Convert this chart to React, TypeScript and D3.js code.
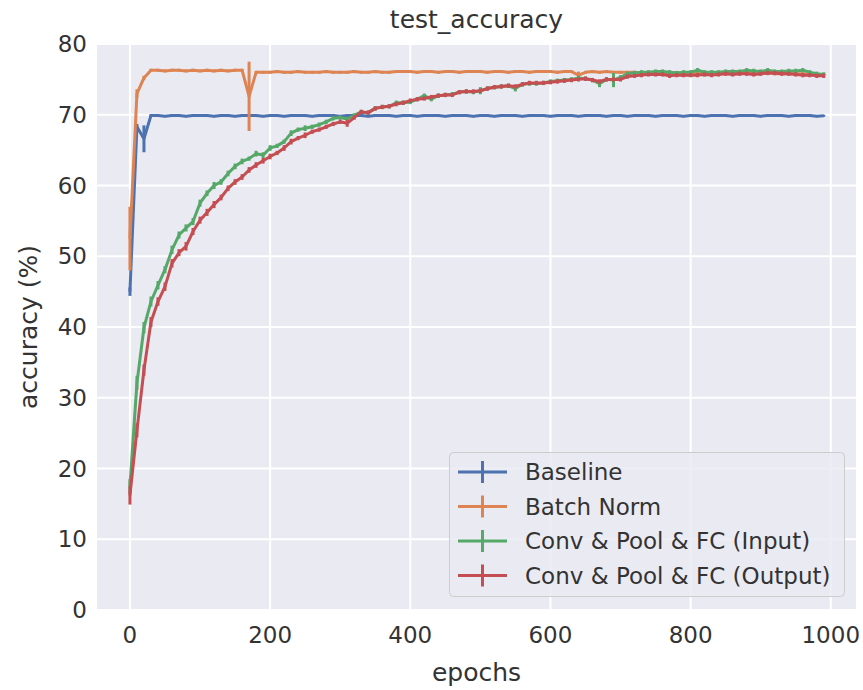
import React from "react";
import * as d3 from "d3";

const epochs = d3.range(0, 1000, 10);

const baseline = [
  45.0, 68.3, 66.6, 69.9, 69.9, 69.8, 69.9, 69.9, 69.8, 69.9,
  69.9, 69.9, 69.8, 69.9, 69.9, 69.8, 69.9, 69.9, 69.9, 69.8,
  69.9, 69.9, 69.8, 69.9, 69.9, 69.9, 69.8, 69.9, 69.9, 69.9,
  69.8, 69.9, 69.9, 69.9, 69.8, 69.9, 69.9, 69.9, 69.8, 69.9,
  69.9, 69.8, 69.9, 69.9, 69.9, 69.8, 69.9, 69.9, 69.9, 69.8,
  69.9, 69.9, 69.8, 69.9, 69.9, 69.9, 69.8, 69.9, 69.9, 69.9,
  69.8, 69.9, 69.9, 69.9, 69.8, 69.9, 69.9, 69.9, 69.8, 69.9,
  69.9, 69.8, 69.9, 69.9, 69.9, 69.8, 69.9, 69.9, 69.9, 69.8,
  69.9, 69.9, 69.8, 69.9, 69.9, 69.9, 69.8, 69.9, 69.9, 69.9,
  69.8, 69.9, 69.9, 69.9, 69.8, 69.9, 69.9, 69.9, 69.8, 69.85,
];
const baselineErr = [
  0.6, 0.4, 1.9, 0.2, 0.15, 0.15, 0.15, 0.15, 0.15, 0.15,
  0.15, 0.15, 0.15, 0.15, 0.15, 0.15, 0.15, 0.15, 0.15, 0.15,
  0.15, 0.15, 0.15, 0.15, 0.15, 0.15, 0.15, 0.15, 0.15, 0.15,
  0.15, 0.15, 0.15, 0.15, 0.15, 0.15, 0.15, 0.15, 0.15, 0.15,
  0.15, 0.15, 0.15, 0.15, 0.15, 0.15, 0.15, 0.15, 0.15, 0.15,
  0.15, 0.15, 0.15, 0.15, 0.15, 0.15, 0.15, 0.15, 0.15, 0.15,
  0.15, 0.15, 0.15, 0.15, 0.15, 0.15, 0.15, 0.15, 0.15, 0.15,
  0.15, 0.15, 0.15, 0.15, 0.15, 0.15, 0.15, 0.15, 0.15, 0.15,
  0.15, 0.15, 0.15, 0.15, 0.15, 0.15, 0.15, 0.15, 0.15, 0.15,
  0.15, 0.15, 0.15, 0.15, 0.15, 0.15, 0.15, 0.15, 0.15, 0.15,
];

const batchNorm = [
  52.5, 73.0, 75.2, 76.3, 76.3, 76.2, 76.3, 76.3, 76.2, 76.3,
  76.2, 76.3, 76.2, 76.3, 76.2, 76.3, 76.3, 72.6, 76.0, 76.0,
  76.0, 76.1, 76.0, 76.0, 76.1, 76.0, 76.0, 76.0, 76.1, 76.0,
  76.0, 76.0, 76.1, 76.0, 76.0, 76.1, 76.0, 76.0, 76.1, 76.1,
  76.1, 76.0, 76.1, 76.1, 76.0, 76.1, 76.1, 76.0, 76.1, 76.1,
  76.1, 76.0, 76.1, 76.1, 76.0, 76.1, 76.1, 76.0, 76.1, 76.1,
  76.1, 76.0, 76.1, 76.1, 75.6, 76.0, 76.1, 76.0, 76.1, 76.0,
  76.0, 76.0, 76.0, 75.9, 76.0, 75.9, 75.9, 76.0, 75.9, 75.9,
  75.9, 75.9, 75.9, 75.9, 75.8, 75.9, 75.9, 75.8, 75.9, 75.8,
  75.8, 75.9, 75.8, 75.8, 75.8, 75.8, 75.8, 75.7, 75.7, 75.7,
];
const batchNormErr = [
  4.5, 0.6, 0.3, 0.2, 0.2, 0.2, 0.2, 0.2, 0.2, 0.2,
  0.2, 0.2, 0.2, 0.2, 0.2, 0.2, 0.2, 4.9, 0.2, 0.2,
  0.2, 0.2, 0.2, 0.2, 0.2, 0.2, 0.2, 0.2, 0.2, 0.2,
  0.2, 0.2, 0.2, 0.2, 0.2, 0.2, 0.2, 0.2, 0.2, 0.2,
  0.2, 0.2, 0.2, 0.2, 0.2, 0.2, 0.2, 0.2, 0.2, 0.2,
  0.2, 0.2, 0.2, 0.2, 0.2, 0.2, 0.2, 0.2, 0.2, 0.2,
  0.2, 0.2, 0.2, 0.2, 0.5, 0.2, 0.2, 0.2, 0.2, 0.2,
  0.2, 0.2, 0.2, 0.2, 0.2, 0.2, 0.2, 0.2, 0.2, 0.2,
  0.2, 0.2, 0.2, 0.2, 0.2, 0.2, 0.2, 0.2, 0.2, 0.2,
  0.2, 0.2, 0.2, 0.2, 0.2, 0.2, 0.2, 0.2, 0.2, 0.2,
];

const convInput = [
  17.5, 32.1, 39.9, 43.6, 45.9, 48.1, 50.9, 53.0, 54.0, 54.9,
  57.5, 58.9, 60.0, 60.5, 61.7, 62.7, 63.4, 63.8, 64.5, 64.3,
  65.3, 65.6, 66.2, 67.4, 67.9, 68.1, 68.3, 68.6, 69.0, 69.5,
  69.6, 69.4, 69.9, 70.4, 70.3, 70.9, 71.1, 71.2, 71.7, 71.7,
  71.8, 72.2, 72.7, 72.2, 72.7, 72.8, 72.9, 73.2, 73.3, 73.2,
  73.4, 73.7, 73.9, 74.0, 74.1, 73.7, 74.3, 74.4, 74.4, 74.5,
  74.7, 74.8, 74.9, 75.0, 75.2, 75.1, 74.9, 74.4, 75.0, 74.9,
  75.3, 75.8, 75.9, 76.0, 76.0, 76.1, 76.1, 76.0, 75.9, 76.0,
  76.0, 76.3, 76.0, 76.0, 76.0, 76.1, 76.1, 76.1, 76.3, 76.2,
  76.1, 76.3, 76.1, 76.1, 76.2, 76.2, 76.3, 76.0, 75.8, 75.7,
];
const convInputErr = [
  1.0, 1.0, 0.8, 0.7, 0.6, 0.5, 0.6, 0.5, 0.5, 0.5,
  0.5, 0.4, 0.5, 0.4, 0.4, 0.4, 0.4, 0.3, 0.4, 0.4,
  0.4, 0.3, 0.3, 0.4, 0.3, 0.4, 0.3, 0.3, 0.3, 0.3,
  0.3, 0.3, 0.3, 0.3, 0.3, 0.3, 0.3, 0.3, 0.3, 0.3,
  0.3, 0.3, 0.3, 0.3, 0.3, 0.3, 0.3, 0.3, 0.3, 0.3,
  0.5, 0.3, 0.3, 0.3, 0.3, 0.4, 0.3, 0.3, 0.3, 0.3,
  0.3, 0.3, 0.3, 0.3, 0.3, 0.3, 0.3, 0.5, 0.3, 1.0,
  0.3, 0.3, 0.3, 0.3, 0.3, 0.3, 0.3, 0.3, 0.3, 0.3,
  0.3, 0.3, 0.3, 0.3, 0.3, 0.3, 0.3, 0.3, 0.3, 0.3,
  0.3, 0.3, 0.3, 0.3, 0.3, 0.3, 0.3, 0.3, 0.3, 0.3,
];

const convOutput = [
  16.2, 25.4, 33.9, 40.7, 43.6, 45.7, 49.0, 50.5, 51.4, 53.5,
  55.1, 56.2, 57.3, 58.3, 59.6, 60.5, 61.2, 62.2, 62.9, 63.5,
  64.1, 64.6, 65.3, 66.2, 66.7, 67.1, 67.6, 67.9, 68.3, 68.7,
  69.0, 68.8, 69.6, 70.4, 70.3, 70.9, 71.1, 71.2, 71.5, 71.7,
  72.0, 72.2, 72.3, 72.5, 72.7, 72.8, 72.8, 73.2, 73.3, 73.3,
  73.4, 73.7, 73.9, 74.0, 74.1, 74.0, 74.3, 74.5, 74.5, 74.5,
  74.6, 74.7, 74.8, 74.9, 75.0, 75.1, 74.9, 74.7, 75.0, 75.0,
  75.0, 75.4, 75.5, 75.6, 75.7, 75.7, 75.7, 75.5, 75.6, 75.6,
  75.6, 75.6, 75.7, 75.6, 75.7, 75.8, 75.7, 75.8, 75.8, 75.7,
  75.8, 75.9, 75.9, 75.8, 75.8, 75.7, 75.6, 75.6, 75.5, 75.5,
];
const convOutputErr = [
  1.3, 1.0, 0.8, 0.7, 0.6, 0.6, 0.6, 0.5, 0.6, 0.5,
  0.5, 0.5, 0.5, 0.4, 0.4, 0.4, 0.4, 0.4, 0.4, 0.4,
  0.4, 0.3, 0.4, 0.4, 0.3, 0.4, 0.3, 0.3, 0.3, 0.3,
  0.3, 0.5, 0.3, 0.3, 0.3, 0.3, 0.3, 0.3, 0.3, 0.3,
  0.3, 0.3, 0.3, 0.3, 0.3, 0.3, 0.3, 0.3, 0.3, 0.3,
  0.3, 0.3, 0.3, 0.3, 0.3, 0.3, 0.3, 0.3, 0.3, 0.3,
  0.3, 0.3, 0.3, 0.3, 0.3, 0.3, 0.3, 0.3, 0.3, 0.3,
  0.3, 0.3, 0.3, 0.3, 0.3, 0.3, 0.3, 0.3, 0.3, 0.3,
  0.3, 0.3, 0.3, 0.3, 0.3, 0.3, 0.3, 0.3, 0.3, 0.3,
  0.3, 0.3, 0.3, 0.3, 0.3, 0.3, 0.3, 0.3, 0.3, 0.3,
];

const seriesNames = [
  "Baseline",
  "Batch Norm",
  "Conv & Pool & FC (Input)",
  "Conv & Pool & FC (Output)",
];
const seriesValues = [baseline, batchNorm, convInput, convOutput];
const seriesErrors = [baselineErr, batchNormErr, convInputErr, convOutputErr];
const colors = ["#4C72B0", "#DD8452", "#55A868", "#C44E52"];

const xTicks = [0, 200, 400, 600, 800, 1000];
const yTicks = [0, 10, 20, 30, 40, 50, 60, 70, 80];

const title = "test_accuracy";
const xLabel = "epochs";
const yLabel = "accuracy (%)";

export default function App() {
  const W = 863;
  const H = 690;
  const L = 97;
  const R = 856;
  const T = 44;
  const B = 610;
  const font = "'DejaVu Sans', sans-serif";
  const textColor = "#333333";
  const lw = 3;
  const tickFs = 23;
  const labelFs = 25;

  const x = d3.scaleLinear().domain([-47, 1036]).range([L, R]);
  const y = d3.scaleLinear().domain([0, 80]).range([B, T]);

  const line = d3
    .line<[number, number]>()
    .x((d) => x(d[0]))
    .y((d) => y(d[1]));

  const legend = { x0: 449.5, y0: 452.5, w: 395, h: 144, rowY: [472, 506.5, 541, 575.5] };

  return (
    <svg
      width={W}
      height={H}
      style={{ position: "absolute", left: 0, top: 0, background: "#ffffff" }}
    >
      <rect x={L} y={T} width={R - L} height={B - T} fill="#EAEAF2" />
      {xTicks.map((t) => (
        <line key={"gx" + t} x1={x(t)} x2={x(t)} y1={T} y2={B} stroke="#ffffff" strokeWidth={2} />
      ))}
      {yTicks.map((t) => (
        <line key={"gy" + t} x1={L} x2={R} y1={y(t)} y2={y(t)} stroke="#ffffff" strokeWidth={2} />
      ))}

      {seriesValues.map((vals, si) => {
        const errs = seriesErrors[si];
        const pts: [number, number][] = vals.map((v, i) => [epochs[i], v]);
        return (
          <g key={"s" + si}>
            {vals.map((v, i) => (
              <line
                key={i}
                x1={x(epochs[i])}
                x2={x(epochs[i])}
                y1={y(v - errs[i])}
                y2={y(v + errs[i])}
                stroke={colors[si]}
                strokeWidth={lw}
              />
            ))}
            <path
              d={line(pts) || ""}
              fill="none"
              stroke={colors[si]}
              strokeWidth={lw}
              strokeLinejoin="round"
              strokeLinecap="butt"
            />
          </g>
        );
      })}

      {xTicks.map((t) => (
        <text
          key={"tx" + t}
          x={x(t)}
          y={B + 25}
          textAnchor="middle"
          dominantBaseline="central"
          fontFamily={font}
          fontSize={tickFs}
          fill={textColor}
        >
          {t}
        </text>
      ))}
      {yTicks.map((t) => (
        <text
          key={"ty" + t}
          x={L - 10}
          y={y(t)}
          textAnchor="end"
          dominantBaseline="central"
          fontFamily={font}
          fontSize={tickFs}
          fill={textColor}
        >
          {t}
        </text>
      ))}

      <text x={(L + R) / 2} y={19} textAnchor="middle" dominantBaseline="central" fontFamily={font} fontSize={labelFs} fill={textColor}>
        {title}
      </text>
      <text x={(L + R) / 2} y={672} textAnchor="middle" dominantBaseline="central" fontFamily={font} fontSize={labelFs} fill={textColor}>
        {xLabel}
      </text>
      <text
        transform={`translate(28, ${(T + B) / 2}) rotate(-90)`}
        textAnchor="middle"
        dominantBaseline="central"
        fontFamily={font}
        fontSize={labelFs}
        fill={textColor}
      >
        {yLabel}
      </text>

      <g>
        <rect
          x={legend.x0}
          y={legend.y0}
          width={legend.w}
          height={legend.h}
          rx={4}
          ry={4}
          fill="#EAEAF2"
          fillOpacity={0.8}
          stroke="#CCCCCC"
          strokeWidth={1}
        />
        {seriesNames.map((name, i) => {
          const ry = legend.rowY[i];
          return (
            <g key={"lg" + i}>
              <line x1={458} x2={507} y1={ry} y2={ry} stroke={colors[i]} strokeWidth={lw} />
              <line x1={482.5} x2={482.5} y1={ry - 11} y2={ry + 11} stroke={colors[i]} strokeWidth={lw} />
              <text x={525} y={ry} dominantBaseline="central" fontFamily={font} fontSize={tickFs} fill={textColor}>
                {name}
              </text>
            </g>
          );
        })}
      </g>
    </svg>
  );
}
